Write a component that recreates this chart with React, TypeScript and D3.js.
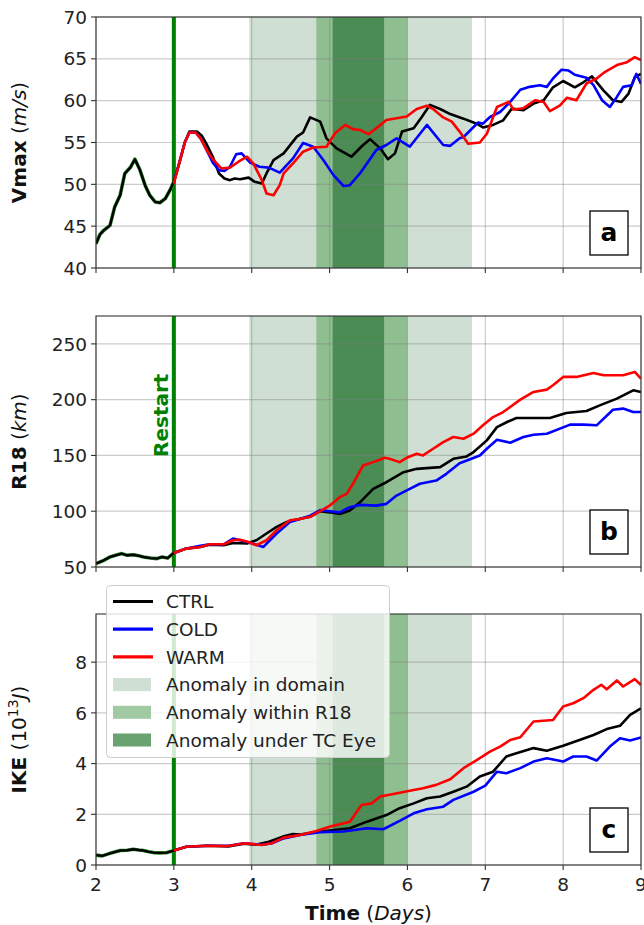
import React, { useEffect, useRef } from 'react';
import * as d3 from 'd3';

// x = time in days, all panels share it
const DAY_TICKS = [2, 3, 4, 5, 6, 7, 8, 9];
const RESTART_DAY = 3;

// shaded anomaly periods [start, end] in days
const BAND_DOMAIN = [3.97, 6.83];
const BAND_R18 = [4.83, 6.0];
const BAND_EYE = [5.04, 5.7];

// panel a: Vmax (m/s)
const VMAX_SPINUP = [[2.0, 42.9], [2.05, 44.0], [2.1, 44.5], [2.18, 45.1], [2.24, 47.3], [2.31, 48.7], [2.37, 51.3], [2.44, 52.0], [2.5, 53.0], [2.565, 51.7], [2.63, 49.9], [2.69, 48.7], [2.76, 47.9], [2.82, 47.8], [2.89, 48.3], [2.95, 49.3], [3.0, 50.3]];
const VMAX_CTRL = [[3.0, 50.3], [3.08, 52.9], [3.14, 55.0], [3.2, 56.3], [3.3, 56.3], [3.36, 55.8], [3.42, 54.8], [3.5, 53.3], [3.58, 51.3], [3.65, 50.7], [3.72, 50.5], [3.78, 50.7], [3.85, 50.6], [3.96, 50.8], [4.04, 50.3], [4.13, 50.1], [4.2, 51.5], [4.28, 52.9], [4.41, 53.7], [4.58, 55.7], [4.66, 56.2], [4.75, 58.0], [4.88, 57.5], [4.96, 55.5], [5.09, 54.3], [5.28, 53.3], [5.43, 54.7], [5.52, 55.4], [5.65, 54.3], [5.75, 53.0], [5.84, 53.7], [5.93, 56.3], [6.08, 56.7], [6.18, 58.0], [6.29, 59.5], [6.42, 59.0], [6.55, 58.4], [6.72, 57.85], [6.89, 57.25], [6.97, 56.8], [7.1, 57.1], [7.23, 57.65], [7.34, 59.05], [7.49, 58.85], [7.62, 59.65], [7.75, 60.05], [7.87, 61.6], [8.0, 62.35], [8.15, 61.6], [8.26, 62.2], [8.37, 62.9], [8.52, 61.2], [8.64, 60.05], [8.75, 59.85], [8.84, 60.85], [8.92, 62.8], [9.0, 63.2]];
const VMAX_COLD = [[3.0, 50.3], [3.08, 52.9], [3.14, 55.0], [3.2, 56.2], [3.28, 56.2], [3.35, 55.4], [3.42, 54.1], [3.5, 52.6], [3.58, 51.7], [3.65, 51.6], [3.72, 52.1], [3.8, 53.6], [3.87, 53.7], [3.98, 52.6], [4.1, 52.1], [4.22, 52.0], [4.36, 51.4], [4.53, 53.1], [4.66, 54.95], [4.79, 54.5], [4.92, 52.9], [5.05, 51.1], [5.18, 49.8], [5.26, 49.9], [5.39, 51.3], [5.48, 52.5], [5.6, 54.1], [5.73, 54.7], [5.86, 55.5], [6.03, 54.5], [6.25, 57.1], [6.46, 54.7], [6.55, 54.6], [6.67, 55.5], [6.72, 55.65], [6.85, 56.85], [6.91, 57.4], [6.97, 57.25], [7.06, 58.05], [7.19, 58.65], [7.32, 59.85], [7.45, 61.3], [7.57, 61.65], [7.7, 61.85], [7.79, 61.65], [7.87, 62.65], [7.98, 63.7], [8.07, 63.6], [8.15, 63.1], [8.3, 62.75], [8.39, 61.85], [8.5, 60.05], [8.6, 59.25], [8.69, 60.45], [8.77, 61.65], [8.88, 61.85], [8.94, 63.2], [9.0, 62.0]];
const VMAX_WARM = [[3.0, 50.1], [3.08, 52.9], [3.14, 55.0], [3.2, 56.2], [3.28, 56.2], [3.35, 55.4], [3.42, 54.1], [3.5, 53.0], [3.55, 52.5], [3.61, 51.9], [3.72, 52.0], [3.83, 52.7], [3.94, 53.3], [4.02, 52.5], [4.13, 50.5], [4.19, 48.9], [4.28, 48.7], [4.36, 49.9], [4.41, 51.3], [4.53, 52.5], [4.66, 53.9], [4.79, 54.4], [4.96, 54.5], [5.07, 56.1], [5.2, 57.1], [5.3, 56.6], [5.39, 56.5], [5.5, 56.0], [5.6, 56.7], [5.73, 57.7], [5.86, 57.9], [5.99, 58.1], [6.12, 59.0], [6.25, 59.4], [6.33, 59.0], [6.46, 58.0], [6.57, 57.5], [6.67, 56.3], [6.78, 54.85], [6.93, 55.0], [7.02, 56.05], [7.15, 59.25], [7.3, 59.85], [7.36, 58.95], [7.49, 59.1], [7.64, 60.05], [7.75, 59.85], [7.83, 58.75], [7.96, 59.45], [8.05, 60.35], [8.17, 60.05], [8.3, 62.05], [8.43, 62.65], [8.54, 63.45], [8.69, 64.25], [8.82, 64.6], [8.92, 65.2], [9.0, 64.85]];

// panel b: R18 (km)
const R18_SPINUP = [[2.0, 53], [2.1, 56], [2.18, 59], [2.25, 60.5], [2.33, 62], [2.4, 60.5], [2.48, 61], [2.55, 60], [2.61, 59], [2.7, 58], [2.78, 57.5], [2.85, 59], [2.92, 58], [3.0, 62.6]];
const R18_CTRL = [[3.0, 62.6], [3.16, 66.5], [3.34, 68], [3.46, 70], [3.64, 69.5], [3.76, 71.5], [3.94, 71], [4.06, 74], [4.19, 80], [4.32, 85.9], [4.45, 90.4], [4.62, 93.2], [4.75, 95], [4.88, 100], [5.0, 99], [5.13, 97.6], [5.26, 100.6], [5.39, 108], [5.56, 120], [5.73, 126], [5.95, 135], [6.12, 138], [6.42, 139.5], [6.59, 147], [6.76, 149.1], [6.85, 153], [7.02, 163.5], [7.15, 175.4], [7.28, 180], [7.4, 183.5], [7.83, 183.5], [8.04, 188], [8.3, 189.8], [8.47, 194.9], [8.69, 200.9], [8.9, 208.4], [9.0, 206.9]];
const R18_COLD = [[3.0, 62.6], [3.16, 66.5], [3.34, 69], [3.46, 70.4], [3.64, 70.4], [3.76, 75.5], [3.94, 72.4], [4.06, 70], [4.15, 68], [4.32, 80], [4.49, 90.4], [4.62, 93], [4.75, 96], [4.88, 101], [5.0, 100], [5.13, 99], [5.26, 103.6], [5.39, 105.7], [5.6, 105], [5.73, 106.6], [5.86, 114], [6.03, 120], [6.16, 124.6], [6.37, 127.5], [6.5, 133.5], [6.67, 143], [6.93, 150], [7.02, 156], [7.15, 164], [7.32, 161.4], [7.49, 166.5], [7.62, 168.6], [7.79, 169.5], [8.09, 177.6], [8.26, 177.6], [8.43, 177], [8.64, 191], [8.77, 192], [8.9, 189], [9.0, 189]];
const R18_WARM = [[3.0, 62.6], [3.16, 66.5], [3.34, 68], [3.46, 70.4], [3.64, 70.4], [3.76, 74], [3.85, 74.5], [3.96, 72.4], [4.06, 69.5], [4.19, 74], [4.32, 83], [4.49, 91.9], [4.62, 93.1], [4.75, 95], [4.88, 100], [5.0, 105], [5.13, 112.6], [5.22, 115.6], [5.3, 124.6], [5.43, 141], [5.56, 144], [5.71, 147.9], [5.77, 147], [5.9, 144], [5.99, 147.9], [6.12, 151.5], [6.2, 150], [6.33, 156], [6.46, 162], [6.59, 166.5], [6.72, 165], [6.85, 169.5], [6.97, 177], [7.1, 184.4], [7.23, 188.9], [7.32, 193.4], [7.45, 200], [7.62, 206.9], [7.79, 209], [7.87, 212.9], [8.0, 220.4], [8.17, 220.4], [8.39, 224], [8.52, 221.9], [8.77, 221.9], [8.92, 224.9], [9.0, 218.9]];

// panel c: IKE (10^13 J)
const IKE_SPINUP = [[2.0, 0.39], [2.08, 0.36], [2.18, 0.46], [2.25, 0.52], [2.31, 0.57], [2.4, 0.58], [2.48, 0.62], [2.55, 0.59], [2.61, 0.57], [2.68, 0.52], [2.74, 0.49], [2.82, 0.48], [2.91, 0.49], [3.0, 0.57]];
const IKE_CTRL = [[3.0, 0.57], [3.16, 0.72], [3.43, 0.76], [3.7, 0.73], [3.9, 0.84], [4.05, 0.8], [4.22, 0.92], [4.4, 1.12], [4.53, 1.22], [4.62, 1.2], [4.83, 1.3], [5.0, 1.36], [5.26, 1.45], [5.48, 1.71], [5.73, 1.97], [5.9, 2.24], [6.08, 2.43], [6.25, 2.63], [6.42, 2.7], [6.59, 2.89], [6.76, 3.09], [6.93, 3.49], [7.1, 3.68], [7.27, 4.28], [7.4, 4.41], [7.62, 4.61], [7.79, 4.51], [8.0, 4.7], [8.21, 4.93], [8.39, 5.13], [8.56, 5.36], [8.73, 5.49], [8.86, 5.92], [9.0, 6.18]];
const IKE_COLD = [[3.0, 0.57], [3.16, 0.72], [3.43, 0.76], [3.7, 0.76], [3.9, 0.86], [4.13, 0.8], [4.26, 0.86], [4.41, 1.05], [4.62, 1.18], [4.88, 1.29], [5.18, 1.32], [5.48, 1.45], [5.69, 1.41], [5.9, 1.74], [6.08, 2.04], [6.25, 2.2], [6.46, 2.3], [6.59, 2.57], [6.85, 2.89], [7.0, 3.13], [7.15, 3.68], [7.27, 3.62], [7.45, 3.82], [7.62, 4.08], [7.79, 4.21], [8.0, 4.08], [8.13, 4.28], [8.3, 4.28], [8.43, 4.12], [8.6, 4.67], [8.73, 5.0], [8.86, 4.91], [9.0, 5.03]];
const IKE_WARM = [[3.0, 0.57], [3.16, 0.72], [3.43, 0.76], [3.7, 0.75], [3.9, 0.86], [4.13, 0.79], [4.26, 0.86], [4.41, 1.08], [4.62, 1.18], [4.83, 1.34], [5.0, 1.51], [5.26, 1.71], [5.41, 2.37], [5.54, 2.43], [5.65, 2.7], [5.82, 2.8], [6.03, 2.93], [6.2, 3.03], [6.37, 3.16], [6.55, 3.38], [6.72, 3.82], [6.89, 4.14], [7.06, 4.47], [7.19, 4.67], [7.32, 4.93], [7.45, 5.04], [7.62, 5.66], [7.87, 5.72], [8.0, 6.25], [8.13, 6.38], [8.26, 6.58], [8.39, 6.91], [8.49, 7.11], [8.56, 6.93], [8.69, 7.28], [8.77, 7.04], [8.92, 7.33], [9.0, 7.1]];

const VMAX_TICKS = [40, 45, 50, 55, 60, 65, 70];
const R18_TICKS = [50, 100, 150, 200, 250];
const IKE_TICKS = [0, 2, 4, 6, 8];

const SERIES_NAMES = ['CTRL', 'COLD', 'WARM'];
const BAND_NAMES = ['Anomaly in domain', 'Anomaly within R18', 'Anomaly under TC Eye'];

const FONT = '"DejaVu Sans", sans-serif';
const LINE_COLORS = ['#000000', '#0000ff', '#ff0000'];
const BAND_COLORS = ['#cfdfd3', '#8fbe90', '#4b8b54'];
const LEGEND_BAND_COLORS = ['#cfdfd3', '#a1c9a2', '#6aa270'];

const W = 644;
const H = 925;
const LEFT = 96;
const RIGHT = 641;

const Chart = () => {
  const ref = useRef(null);

  useEffect(() => {
    const svg = d3.select(ref.current);
    svg.selectAll('*').remove();

    const x = d3.scaleLinear().domain([2, 9]).range([LEFT, RIGHT]);

    const panels = [
      { top: 17, bottom: 268, domain: [40, 70], ticks: VMAX_TICKS, letter: 'a', spin: VMAX_SPINUP, runs: [VMAX_CTRL, VMAX_COLD, VMAX_WARM],
        label: [{ t: 'Vmax', w: 'bold' }, { t: ' (' }, { t: 'm/s', s: 'italic' }, { t: ')' }] },
      { top: 316, bottom: 567, domain: [50, 275], ticks: R18_TICKS, letter: 'b', spin: R18_SPINUP, runs: [R18_CTRL, R18_COLD, R18_WARM],
        label: [{ t: 'R18', w: 'bold' }, { t: ' (' }, { t: 'km', s: 'italic' }, { t: ')' }] },
      { top: 614, bottom: 865, domain: [0, 9.9], ticks: IKE_TICKS, letter: 'c', spin: IKE_SPINUP, runs: [IKE_CTRL, IKE_COLD, IKE_WARM],
        label: [{ t: 'IKE', w: 'bold' }, { t: ' (10' }, { t: '13', sup: true }, { t: 'J', s: 'italic', down: true }, { t: ')' }] },
    ];

    panels.forEach((p, i) => {
      const y = d3.scaleLinear().domain(p.domain).range([p.bottom, p.top]);
      const g = svg.append('g');
      const clipId = `clip-${i}`;
      svg.append('clipPath').attr('id', clipId)
        .append('rect').attr('x', LEFT).attr('y', p.top).attr('width', RIGHT - LEFT).attr('height', p.bottom - p.top);

      // anomaly bands
      [BAND_DOMAIN, BAND_R18, BAND_EYE].forEach((b, k) => {
        g.append('rect')
          .attr('x', x(b[0])).attr('width', x(b[1]) - x(b[0]))
          .attr('y', p.top).attr('height', p.bottom - p.top)
          .attr('fill', BAND_COLORS[k]);
      });

      // grid
      DAY_TICKS.forEach(d => {
        g.append('line').attr('x1', x(d)).attr('x2', x(d)).attr('y1', p.top).attr('y2', p.bottom)
          .attr('stroke', 'rgba(128,128,128,0.4)').attr('stroke-width', 1.2);
      });
      p.ticks.forEach(v => {
        g.append('line').attr('x1', LEFT).attr('x2', RIGHT).attr('y1', y(v)).attr('y2', y(v))
          .attr('stroke', 'rgba(128,128,128,0.4)').attr('stroke-width', 1.2);
      });

      // restart line
      g.append('line').attr('x1', x(RESTART_DAY)).attr('x2', x(RESTART_DAY)).attr('y1', p.top).attr('y2', p.bottom)
        .attr('stroke', '#008000').attr('stroke-width', 4);

      const line = d3.line().x(d => x(d[0])).y(d => y(d[1]));
      const lines = g.append('g').attr('clip-path', `url(#${clipId})`);

      // spin-up run (shared)
      lines.append('path').datum(p.spin).attr('d', line).attr('fill', 'none')
        .attr('stroke', '#2e8b2e').attr('stroke-width', 3.6).attr('stroke-linejoin', 'round');
      lines.append('path').datum(p.spin).attr('d', line).attr('fill', 'none')
        .attr('stroke', '#000').attr('stroke-width', 2.4).attr('stroke-linejoin', 'round');

      p.runs.forEach((run, k) => {
        lines.append('path').datum(run).attr('d', line).attr('fill', 'none')
          .attr('stroke', LINE_COLORS[k]).attr('stroke-width', 2.6).attr('stroke-linejoin', 'round');
      });

      // frame
      g.append('rect').attr('x', LEFT).attr('y', p.top).attr('width', RIGHT - LEFT).attr('height', p.bottom - p.top)
        .attr('fill', 'none').attr('stroke', '#333').attr('stroke-width', 1.1);

      // y ticks
      p.ticks.forEach(v => {
        g.append('line').attr('x1', LEFT - 5).attr('x2', LEFT).attr('y1', y(v)).attr('y2', y(v)).attr('stroke', '#333').attr('stroke-width', 1.1);
        g.append('text').attr('x', LEFT - 9).attr('y', y(v)).attr('dy', '0.36em')
          .attr('text-anchor', 'end').attr('font-family', FONT).attr('font-size', 18.5).attr('fill', '#222')
          .text(v);
      });

      // x ticks
      DAY_TICKS.forEach(d => {
        g.append('line').attr('x1', x(d)).attr('x2', x(d)).attr('y1', p.bottom).attr('y2', p.bottom + 5).attr('stroke', '#333').attr('stroke-width', 1.1);
        if (i === 2) {
          g.append('text').attr('x', x(d)).attr('y', p.bottom + 26)
            .attr('text-anchor', 'middle').attr('font-family', FONT).attr('font-size', 18.5).attr('fill', '#222')
            .text(d);
        }
      });

      // y label
      const lab = g.append('text')
        .attr('transform', `translate(26,${(p.top + p.bottom) / 2}) rotate(-90)`)
        .attr('text-anchor', 'middle').attr('font-family', FONT).attr('font-size', 20).attr('fill', '#111');
      p.label.forEach(part => {
        const ts = lab.append('tspan').text(part.t);
        if (part.w) ts.attr('font-weight', part.w);
        if (part.s) ts.attr('font-style', part.s);
        if (part.sup) ts.attr('font-size', 14).attr('dy', -8);
        if (part.down) ts.attr('dy', 8);
      });

      // panel letter box
      g.append('rect').attr('x', RIGHT - 51).attr('y', p.bottom - 57).attr('width', 38).attr('height', 44)
        .attr('fill', '#fff').attr('stroke', '#000').attr('stroke-width', 1.3);
      g.append('text').attr('x', RIGHT - 32).attr('y', p.bottom - 27)
        .attr('text-anchor', 'middle').attr('font-family', FONT).attr('font-size', 25).attr('font-weight', 'bold')
        .text(p.letter);

      if (i === 1) {
        g.append('text')
          .attr('transform', `translate(${x(RESTART_DAY) - 6},${y(186)}) rotate(-90)`)
          .attr('text-anchor', 'middle').attr('font-family', FONT).attr('font-size', 20).attr('font-weight', 'bold')
          .attr('fill', '#008000').text('Restart');
      }

      if (i === 2) {
        // legend
        const lg = svg.append('g');
        lg.append('rect').attr('x', 106.5).attr('y', 585.5).attr('width', 283).attr('height', 172).attr('rx', 4)
          .attr('fill', 'rgba(255,255,255,0.82)').attr('stroke', '#cccccc').attr('stroke-width', 1);
        const rowY = k => 601.5 + k * 27.7;
        SERIES_NAMES.forEach((name, k) => {
          lg.append('line').attr('x1', 113).attr('x2', 153).attr('y1', rowY(k)).attr('y2', rowY(k))
            .attr('stroke', LINE_COLORS[k]).attr('stroke-width', 3.2);
          lg.append('text').attr('x', 166).attr('y', rowY(k)).attr('dy', '0.36em')
            .attr('font-family', FONT).attr('font-size', 18.5).attr('fill', '#222').text(name);
        });
        BAND_NAMES.forEach((name, k) => {
          const yy = rowY(k + 3);
          lg.append('rect').attr('x', 113).attr('y', yy - 6.5).attr('width', 38).attr('height', 13)
            .attr('fill', LEGEND_BAND_COLORS[k]);
          lg.append('text').attr('x', 166).attr('y', yy).attr('dy', '0.36em')
            .attr('font-family', FONT).attr('font-size', 18.5).attr('fill', '#222').text(name);
        });

        // x label
        const xl = svg.append('text').attr('x', (LEFT + RIGHT) / 2).attr('y', 920)
          .attr('text-anchor', 'middle').attr('font-family', FONT).attr('font-size', 20).attr('fill', '#111');
        xl.append('tspan').attr('font-weight', 'bold').text('Time');
        xl.append('tspan').text(' (');
        xl.append('tspan').attr('font-style', 'italic').text('Days');
        xl.append('tspan').text(')');
      }
    });
  }, []);

  return <svg ref={ref} width={W} height={H} style={{ position: 'absolute', left: 0, top: 0, background: '#fff' }} />;
};

export default function App() {
  return <Chart />;
}
